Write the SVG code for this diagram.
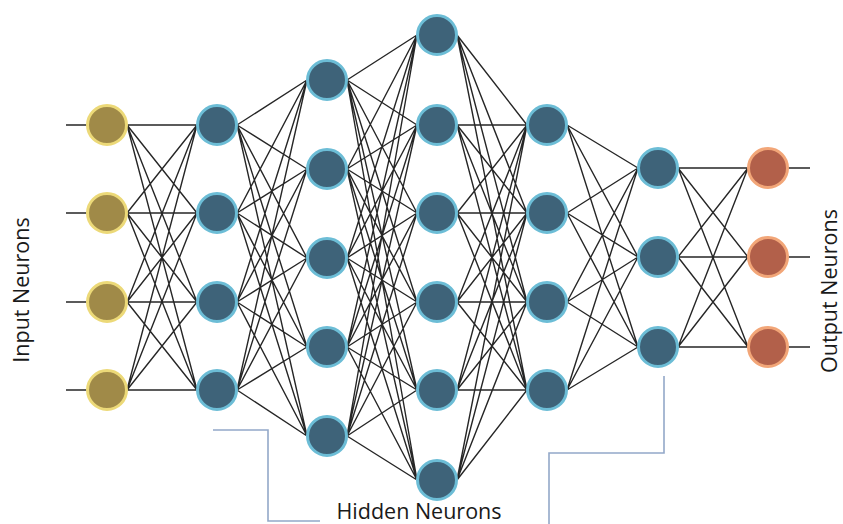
<svg xmlns="http://www.w3.org/2000/svg" width="843" height="524" viewBox="0 0 843 524">
<style>
.c{stroke:#262626;stroke-width:1.4;fill:none}
.in{fill:#a08a48;stroke:#ecd978;stroke-width:3}
.hd{fill:#3e6379;stroke:#6cbdd6;stroke-width:3}
.out{fill:#b2604a;stroke:#f2a678;stroke-width:3}
.br{stroke:#93a8c9;stroke-width:1.6;fill:none}
.t{font-family:"Open Sans","Liberation Sans",sans-serif;font-size:21.5px;fill:#1a1a1a}
</style>
<rect width="843" height="524" fill="#ffffff"/>
<g id="connectors" class="c">
<path d="M66 125H87M66 213H87M66 302H87M66 390H87"/>
<path d="M788 168H810M788 257H810M788 347H810"/>
<path d="M127 125L197 125M127 125L197 213M127 125L197 302M127 125L197 390M127 213L197 125M127 213L197 213M127 213L197 302M127 213L197 390M127 302L197 125M127 302L197 213M127 302L197 302M127 302L197 390M127 390L197 125M127 390L197 213M127 390L197 302M127 390L197 390"/>
<path d="M237 125L307 80M237 125L307 169M237 125L307 258M237 125L307 347M237 125L307 436M237 213L307 80M237 213L307 169M237 213L307 258M237 213L307 347M237 213L307 436M237 302L307 80M237 302L307 169M237 302L307 258M237 302L307 347M237 302L307 436M237 390L307 80M237 390L307 169M237 390L307 258M237 390L307 347M237 390L307 436"/>
<path d="M347 80L417 35M347 80L417 125M347 80L417 213M347 80L417 302M347 80L417 390M347 80L417 480M347 169L417 35M347 169L417 125M347 169L417 213M347 169L417 302M347 169L417 390M347 169L417 480M347 258L417 35M347 258L417 125M347 258L417 213M347 258L417 302M347 258L417 390M347 258L417 480M347 347L417 35M347 347L417 125M347 347L417 213M347 347L417 302M347 347L417 390M347 347L417 480M347 436L417 35M347 436L417 125M347 436L417 213M347 436L417 302M347 436L417 390M347 436L417 480"/>
<path d="M457 35L527 125M457 35L527 213M457 35L527 302M457 35L527 390M457 125L527 125M457 125L527 213M457 125L527 302M457 125L527 390M457 213L527 125M457 213L527 213M457 213L527 302M457 213L527 390M457 302L527 125M457 302L527 213M457 302L527 302M457 302L527 390M457 390L527 125M457 390L527 213M457 390L527 302M457 390L527 390M457 480L527 125M457 480L527 213M457 480L527 302M457 480L527 390"/>
<path d="M567 125L638 168M567 125L638 257M567 125L638 347M567 213L638 168M567 213L638 257M567 213L638 347M567 302L638 168M567 302L638 257M567 302L638 347M567 390L638 168M567 390L638 257M567 390L638 347"/>
<path d="M678 168L748 168M678 168L748 257M678 168L748 347M678 257L748 168M678 257L748 257M678 257L748 347M678 347L748 168M678 347L748 257M678 347L748 347"/>
</g>
<g id="brackets" class="br">
<path d="M213 430H268V521H320"/>
<path d="M664 376V453H549V524"/>
</g>
<g id="input-1"><circle class="in" cx="107" cy="125" r="19.5"/></g>
<g id="input-2"><circle class="in" cx="107" cy="213" r="19.5"/></g>
<g id="input-3"><circle class="in" cx="107" cy="302" r="19.5"/></g>
<g id="input-4"><circle class="in" cx="107" cy="390" r="19.5"/></g>
<g id="h1-1"><circle class="hd" cx="217" cy="125" r="19.5"/></g>
<g id="h1-2"><circle class="hd" cx="217" cy="213" r="19.5"/></g>
<g id="h1-3"><circle class="hd" cx="217" cy="302" r="19.5"/></g>
<g id="h1-4"><circle class="hd" cx="217" cy="390" r="19.5"/></g>
<g id="h2-1"><circle class="hd" cx="327" cy="80" r="19.5"/></g>
<g id="h2-2"><circle class="hd" cx="327" cy="169" r="19.5"/></g>
<g id="h2-3"><circle class="hd" cx="327" cy="258" r="19.5"/></g>
<g id="h2-4"><circle class="hd" cx="327" cy="347" r="19.5"/></g>
<g id="h2-5"><circle class="hd" cx="327" cy="436" r="19.5"/></g>
<g id="h3-1"><circle class="hd" cx="437" cy="35" r="19.5"/></g>
<g id="h3-2"><circle class="hd" cx="437" cy="125" r="19.5"/></g>
<g id="h3-3"><circle class="hd" cx="437" cy="213" r="19.5"/></g>
<g id="h3-4"><circle class="hd" cx="437" cy="302" r="19.5"/></g>
<g id="h3-5"><circle class="hd" cx="437" cy="390" r="19.5"/></g>
<g id="h3-6"><circle class="hd" cx="437" cy="480" r="19.5"/></g>
<g id="h4-1"><circle class="hd" cx="547" cy="125" r="19.5"/></g>
<g id="h4-2"><circle class="hd" cx="547" cy="213" r="19.5"/></g>
<g id="h4-3"><circle class="hd" cx="547" cy="302" r="19.5"/></g>
<g id="h4-4"><circle class="hd" cx="547" cy="390" r="19.5"/></g>
<g id="h5-1"><circle class="hd" cx="658" cy="168" r="19.5"/></g>
<g id="h5-2"><circle class="hd" cx="658" cy="257" r="19.5"/></g>
<g id="h5-3"><circle class="hd" cx="658" cy="347" r="19.5"/></g>
<g id="output-1"><circle class="out" cx="768" cy="168" r="19.5"/></g>
<g id="output-2"><circle class="out" cx="768" cy="257" r="19.5"/></g>
<g id="output-3"><circle class="out" cx="768" cy="347" r="19.5"/></g>
<g id="labels">
<text class="t" x="419" y="519" text-anchor="middle">Hidden Neurons</text>
<text class="t" transform="translate(29 290) rotate(-90)" text-anchor="middle">Input Neurons</text>
<text class="t" transform="translate(837 291) rotate(-90)" text-anchor="middle">Output Neurons</text>
</g>
</svg>
